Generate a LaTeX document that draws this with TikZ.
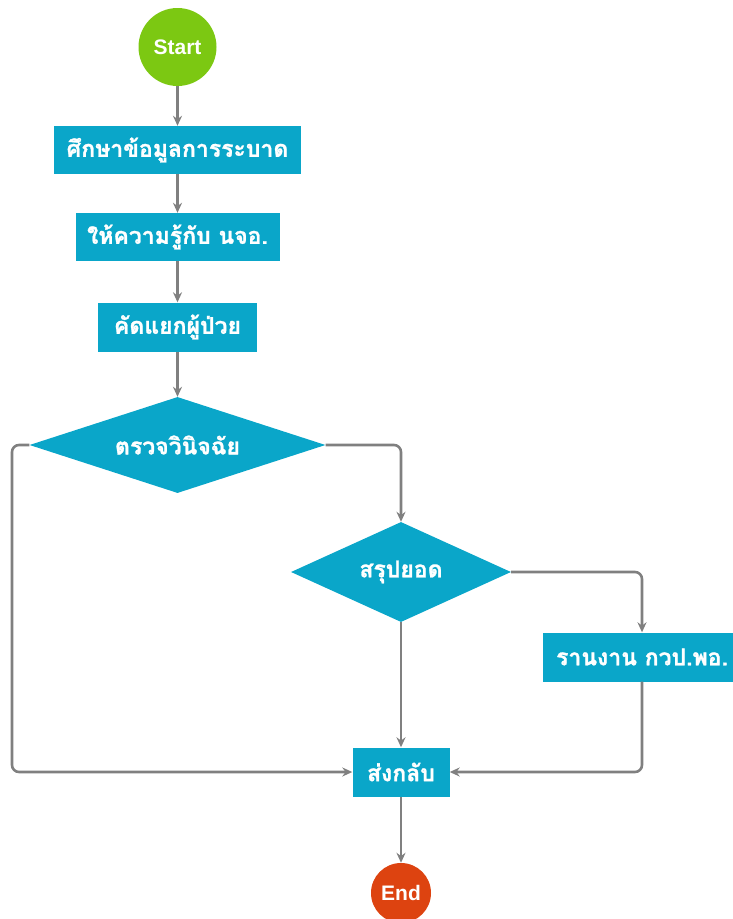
\documentclass[tikz,border=0pt]{standalone}
\usepackage{fontspec}
\setmainfont{Liberation Sans}
\newfontfamily\thaifont[Script=Thai,BoldFeatures={FakeBold=1.2}]{Loma}
\usetikzlibrary{shapes.geometric,arrows.meta}
\definecolor{boxblue}{HTML}{0AA6C9}
\definecolor{startgreen}{HTML}{7CC812}
\definecolor{endred}{HTML}{DD4310}
\definecolor{arrgray}{HTML}{808080}
\tikzset{
  stepbox/.style={rectangle, fill=boxblue, text=white, inner sep=0pt, font=\thaifont\bfseries\fontsize{23}{26}\selectfont},
  decbox/.style={diamond, fill=boxblue, text=white, inner sep=0pt, font=\thaifont\bfseries\fontsize{23}{26}\selectfont},
  term/.style={circle, text=white, inner sep=0pt, font=\bfseries\fontsize{21}{24}\selectfont},
  arr/.style={draw=arrgray, line width=2.6pt, rounded corners=7pt, -{Stealth[length=10pt,width=9pt]}}
}
\begin{document}
\begin{tikzpicture}[x=1pt,y=-1pt]
\useasboundingbox (0,0) rectangle (732,919);
\node[term, fill=startgreen, minimum size=78pt] (start) at (177.5,47) {Start};
\node[stepbox, minimum width=247pt, minimum height=48pt] (b1) at (177.5,150) {ศึกษาข้อมูลการระบาด};
\node[stepbox, minimum width=204pt, minimum height=48pt] (b2) at (177.5,237) {ให้ความรู้กับ นจอ.};
\node[stepbox, minimum width=159pt, minimum height=49pt] (b3) at (177.5,327) {คัดแยกผู้ป่วย};
\node[decbox, aspect=3, minimum width=296pt, minimum height=96pt] (d1) at (177.5,445) {ตรวจวินิจฉัย};
\node[decbox, aspect=2.2, minimum width=220pt, minimum height=100pt] (d2) at (401,572) {สรุปยอด};
\node[stepbox, minimum width=198pt, minimum height=49pt] (rep) at (642,657) {รานงาน กวป.พอ.};
\node[stepbox, minimum width=97pt, minimum height=49pt] (back) at (401,772) {ส่งกลับ};
\node[term, fill=endred, minimum size=60pt] (end) at (401,893) {End};
\coordinate (lc) at (12,445);
\draw[arr] (start) -- (b1);
\draw[arr] (b1) -- (b2);
\draw[arr] (b2) -- (b3);
\draw[arr] (b3) -- (d1);
\draw[arr] (d1.east) -| (d2.north);
\draw[arr] (d1.west) -- (lc) |- (back.west);
\draw[arr] (d2.south) -- (back.north);
\draw[arr] (d2.east) -| (rep.north);
\draw[arr] (rep.south) |- (back.east);
\draw[arr] (back) -- (end);
\end{tikzpicture}
\end{document}
